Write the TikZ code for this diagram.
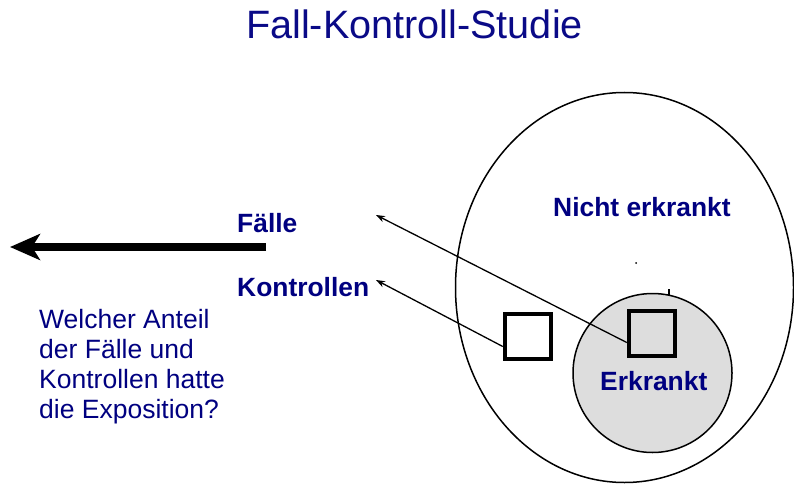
\documentclass[tikz,border=0pt]{standalone}
\usepackage{fontspec}
\setmainfont{Liberation Sans}
\usetikzlibrary{arrows.meta,shapes.geometric}
\definecolor{txtblue}{RGB}{0,0,128}
\definecolor{ttlblue}{RGB}{10,10,135}
\definecolor{fillgray}{RGB}{221,221,221}
\begin{document}
\begin{tikzpicture}[x=1pt,y=-1pt,
  lbl/.style={inner sep=0pt,text=txtblue,font=\fontsize{26.4}{30}\selectfont\bfseries},
  sq/.style={draw=black,line width=4.5pt,minimum width=46pt,minimum height=45pt,inner sep=0pt},
  thin/.style={draw=black,line width=1.3pt,-{Stealth[length=9pt,width=6.5pt]}}]
\useasboundingbox (0,0) rectangle (794,484);
% title
\node[inner sep=0pt,anchor=base,text=ttlblue,font=\fontsize{39.6}{46}\selectfont] (title) at (414.5,39) {Fall-Kontroll-Studie};
% big ellipse
\node[draw=black,line width=1.5pt,ellipse,minimum width=338pt,minimum height=390pt,inner sep=0pt] (pop) at (624.5,287.5) {};
% small circle
\node[draw=black,line width=1.5pt,circle,fill=fillgray,minimum size=159pt,inner sep=0pt] (ill) at (652.5,373) {};
% tiny marks
\fill[black] (636,263) circle (1pt);
\draw[black,line width=2pt] (669,289) -- (669,295);
% labels
\node[lbl,anchor=base west] (nicht) at (553,216) {Nicht erkrankt};
\node[lbl,anchor=base west] (erk) at (600,390) {Erkrankt};
\node[lbl,anchor=base west] (faelle) at (237,232) {Fälle};
\node[lbl,anchor=base west] (kontr) at (237,296) {Kontrollen};
% question text
\node[inner sep=0pt,anchor=north west,text=txtblue,align=left,font=\fontsize{26.5}{30}\selectfont] (q) at (39,309)
  {Welcher Anteil\\der Fälle und\\Kontrollen hatte\\die Exposition?};
% squares
\node[sq,fill=white] (ksq) at (528,336.5) {};
\node[sq] (fsq) at (652,333.5) {};
% arrow tips
\coordinate (ftip) at (376,215);
\coordinate (ktip) at (376,280);
\draw[thin] ([yshift=-9pt]fsq.west) -- (ftip);
\draw[thin] ([yshift=-10pt]ksq.west) -- (ktip);
% thick arrow
\coordinate (bigstart) at (266,247);
\coordinate (bigend) at (10,247);
\draw[line width=8pt,-{Stealth[length=30pt,width=26pt,inset=8pt]}] (bigstart) -- (bigend);
\end{tikzpicture}
\end{document}
